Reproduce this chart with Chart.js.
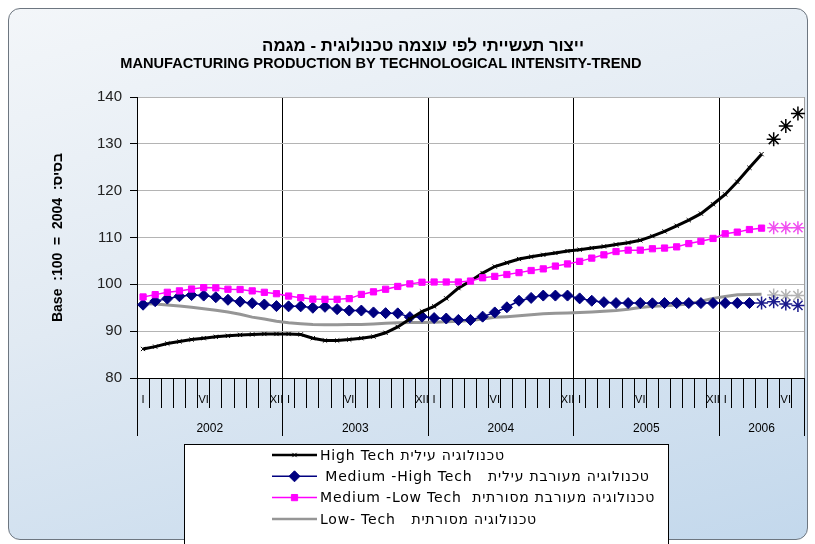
<!DOCTYPE html>
<html>
<head>
<meta charset="utf-8">
<script src="https://cdn.jsdelivr.net/npm/chart.js@4.4.1/dist/chart.umd.min.js"></script>
<style>
  html, body { margin: 0; padding: 0; background: #fff; }
  #frame {
    position: absolute; left: 8px; top: 8px; width: 798px; height: 530px;
    border: 1px solid #6d7680; border-radius: 12px;
    background: linear-gradient(165deg, #f3f6f9 0%, #e1eaf3 45%, #c3d8ec 100%);
  }
  #wrap { position: absolute; left: 0; top: 0; width: 815px; height: 544px; }
</style>
</head>
<body>
<div id="frame"></div>
<div id="wrap"><canvas id="c" width="815" height="544"></canvas></div>
<script>
  const romanMonths = ["I", "II", "III", "IV", "V", "VI", "VII", "VIII", "IX", "X", "XI", "XII"];
  const shownMonths = ["I", "VI", "XII"];
  const years = ["2002", "2003", "2004", "2005", "2006"];
  const monthsPerYear = [12, 12, 12, 12, 7];

  const titleHe = "ייצור תעשייתי לפי עוצמה טכנולוגית - מגמה";
  const titleEn = "MANUFACTURING PRODUCTION BY TECHNOLOGICAL INTENSITY-TREND";
  const yTitle = "Base  :100  =  2004  :בסיס";

  const seriesNames = [
    "High Tech טכנולוגיה עילית",
    " Medium -High Tech   טכנולוגיה מעורבת עילית",
    "Medium -Low Tech  טכנולוגיה מעורבת מסורתית",
    "Low- Tech   טכנולוגיה מסורתית",
  ];

  // Jan 2002 .. Apr 2006, then trend points May..Jul 2006
  const highTech = [
    86.2, 86.7, 87.35, 87.8, 88.2, 88.5, 88.8, 89.0, 89.2, 89.3, 89.4, 89.4,
    89.4, 89.3, 88.5, 88.0, 88.0, 88.2, 88.5, 88.85, 89.65, 90.9, 92.6, 94.2,
    95.3, 97.0, 99.2, 100.7, 102.4, 103.8, 104.6, 105.4, 105.9, 106.3, 106.7, 107.1,
    107.4, 107.75, 108.1, 108.5, 108.9, 109.4, 110.3, 111.3, 112.5, 113.7, 115.1, 117.1,
    119.2, 121.9, 124.9, 127.8,
  ];
  const highTechTrend = [131.0, 133.8, 136.5];

  // Jan 2002 .. Mar 2006, then trend points Apr..Jul 2006
  const mediumHigh = [
    95.65, 96.4, 96.95, 97.45, 97.7, 97.6, 97.25, 96.7, 96.3, 95.97, 95.7, 95.35,
    95.3, 95.3, 95.0, 95.2, 94.7, 94.4, 94.4, 94.0, 93.85, 93.8, 93.0, 93.1,
    92.8, 92.7, 92.4, 92.4, 93.1, 94.0, 95.1, 96.5, 97.1, 97.6, 97.6, 97.6,
    97.0, 96.5, 96.2, 96.0, 96.0, 96.0, 95.95, 96.0, 96.0, 96.0, 96.0, 96.0,
    96.0, 96.0, 96.0,
  ];
  const mediumHighTrend = [96.0, 96.3, 95.8, 95.5];

  const mediumLow = [
    97.3, 97.8, 98.3, 98.6, 99.0, 99.3, 99.25, 98.95, 98.9, 98.6, 98.3, 98.0,
    97.5, 97.15, 96.85, 96.8, 96.8, 96.95, 97.85, 98.4, 98.95, 99.55, 100.1, 100.45,
    100.5, 100.5, 100.5, 100.7, 101.4, 101.7, 102.1, 102.5, 102.95, 103.3, 103.9, 104.35,
    104.9, 105.6, 106.3, 107.0, 107.3, 107.3, 107.6, 107.75, 108.0, 108.7, 109.2, 109.8,
    110.8, 111.15, 111.7, 112.0,
  ];
  const mediumLowTrend = [112.1, 112.1, 112.1];

  const lowTech = [
    95.9, 95.8, 95.6, 95.35, 95.1, 94.8, 94.45, 94.1, 93.6, 93.0, 92.6, 92.1,
    91.8, 91.6, 91.4, 91.35, 91.35, 91.4, 91.45, 91.55, 91.7, 91.8, 91.85, 91.85,
    91.9, 92.0, 92.1, 92.25, 92.6, 92.95, 93.1, 93.3, 93.5, 93.7, 93.8, 93.9,
    94.0, 94.1, 94.25, 94.4, 94.7, 95.05, 95.3, 95.4, 95.6, 95.8, 96.4, 97.0,
    97.4, 97.75, 97.85, 97.9,
  ];
  const lowTechTrend = [97.7, 97.6, 97.6];

  const yTicks = [80, 90, 100, 110, 120, 130, 140];

  // month categories and year band ticks
  const categories = [];
  const yearTicks = [];
  let start = 0;
  years.forEach((y, k) => {
    for (let m = 0; m < monthsPerYear[k]; m++) categories.push(romanMonths[m]);
    yearTicks.push({ value: start - 0.5, label: "" });
    yearTicks.push({ value: start + monthsPerYear[k] / 2 - 0.5, label: y });
    start += monthsPerYear[k];
  });
  yearTicks.push({ value: start - 0.5, label: "" });
  const yearBounds = yearTicks.filter((t) => t.label === "").map((t) => t.value);

  function tail(values) {
    return new Array(categories.length - values.length).fill(null).concat(values);
  }

  const FONT = '"Liberation Sans", Arial, sans-serif';
  Chart.defaults.font.family = FONT;
  Chart.defaults.color = "#000";

  const plotBackground = {
    id: "plotBackground",
    beforeDraw(chart) {
      const { ctx, chartArea: a } = chart;
      ctx.save();
      ctx.fillStyle = "#fff";
      ctx.fillRect(a.left, a.top, a.right - a.left, a.bottom - a.top);
      ctx.restore();
    },
  };

  // two title lines, each centred where the original sits
  const titleText = {
    id: "titleText",
    afterDraw(chart) {
      const { ctx } = chart;
      ctx.save();
      ctx.fillStyle = "#000";
      ctx.textAlign = "center";
      ctx.textBaseline = "middle";
      ctx.font = "bold 16.8px " + FONT;
      ctx.fillText(titleHe, 423, 46);
      ctx.font = "bold 14.6px " + FONT;
      ctx.fillText(titleEn, 381, 64);
      ctx.restore();
    },
  };

  const boxLegend = {
    id: "boxLegend",
    afterDraw(chart) {
      const { ctx, chartArea } = chart;
      const left = Math.round(chartArea.left + 47);
      const top = Math.round(chart.scales.years.bottom + 4);
      ctx.save();
      ctx.fillStyle = "#fff";
      ctx.strokeStyle = "#000";
      ctx.lineWidth = 1;
      ctx.fillRect(left, top, 484, 120);
      ctx.strokeRect(left + 0.5, top + 0.5, 484, 120);
      ctx.font = '14px "DejaVu Sans", sans-serif';
      if ("letterSpacing" in ctx) ctx.letterSpacing = "0.8px";
      ctx.textBaseline = "middle";
      ctx.textAlign = "left";
      chart.data.datasets.forEach((ds) => {
        if (ds.legendRow === undefined) return;
        const y = top + 11 + ds.legendRow * 21.3;
        const x0 = left + 88, x1 = left + 133;
        ctx.strokeStyle = ds.borderColor;
        ctx.lineWidth = Math.min(ds.borderWidth, 2.5);
        ctx.beginPath();
        ctx.moveTo(x0, y);
        ctx.lineTo(x1, y);
        ctx.stroke();
        if (ds.pointRadius > 0) {
          ctx.fillStyle = ds.pointBackgroundColor;
          ctx.strokeStyle = ds.pointBorderColor;
          ctx.lineWidth = ds.pointBorderWidth;
          Chart.helpers.drawPoint(ctx, {
            pointStyle: ds.pointStyle,
            radius: ds.pointRadius,
            borderWidth: ds.pointBorderWidth,
            rotation: 0,
          }, (x0 + x1) / 2, y);
        }
        ctx.fillStyle = "#000";
        ctx.fillText(ds.label, x1 + 3, y + 1);
      });
      ctx.restore();
    },
  };

  new Chart(document.getElementById("c"), {
    type: "line",
    data: {
      labels: categories,
      datasets: [
        {
          label: seriesNames[2], legendRow: 2, data: mediumLow, order: 0,
          borderColor: "#ff00ff", borderWidth: 1.5,
          pointStyle: "rect", pointRadius: 4.4,
          pointBackgroundColor: "#ff00ff", pointBorderColor: "#ff00ff", pointBorderWidth: 1,
        },
        {
          label: seriesNames[0], legendRow: 0, data: highTech, order: 1,
          borderColor: "#000", borderWidth: 3,
          pointStyle: "crossRot", pointRadius: 3,
          pointBackgroundColor: "#000", pointBorderColor: "#000", pointBorderWidth: 1,
        },
        {
          label: seriesNames[1], legendRow: 1, data: mediumHigh, order: 2,
          borderColor: "#000080", borderWidth: 1.5,
          pointStyle: "rectRot", pointRadius: 5.5,
          pointBackgroundColor: "#000080", pointBorderColor: "#000080", pointBorderWidth: 1,
        },
        {
          label: seriesNames[3], legendRow: 3, data: lowTech, order: 3,
          borderColor: "#969696", borderWidth: 3,
          pointRadius: 0, pointBackgroundColor: "#969696", pointBorderColor: "#969696", pointBorderWidth: 0,
        },
        {
          label: "trend-hi", data: tail(highTechTrend), showLine: false, order: 1,
          pointStyle: "star", pointRadius: 7, pointBorderWidth: 1.5,
          borderColor: "#000", pointBorderColor: "#000",
        },
        {
          label: "trend-mh", data: tail(mediumHighTrend), showLine: false, order: 2,
          pointStyle: "star", pointRadius: 6.5, pointBorderWidth: 1.5,
          borderColor: "#1a1a8c", pointBorderColor: "#1a1a8c",
        },
        {
          label: "trend-ml", data: tail(mediumLowTrend), showLine: false, order: 0,
          pointStyle: "star", pointRadius: 6.5, pointBorderWidth: 1.5,
          borderColor: "#f050f0", pointBorderColor: "#f050f0",
        },
        {
          label: "trend-lo", data: tail(lowTechTrend), showLine: false, order: 3,
          pointStyle: "star", pointRadius: 6.5, pointBorderWidth: 1.5,
          borderColor: "#b4b4b4", pointBorderColor: "#b4b4b4",
        },
      ],
    },
    options: {
      responsive: false,
      animation: false,
      devicePixelRatio: 1,
      layout: { padding: { left: 0, right: 11, top: 97, bottom: 104 } },
      elements: { line: { tension: 0 } },
      plugins: {
        legend: { display: false },
        tooltip: { enabled: false },
        title: { display: false },
      },
      scales: {
        x: {
          type: "category",
          position: "bottom",
          weight: 0,
          offset: true,
          border: { display: true, color: "#000", width: 1 },
          grid: {
            offset: true,
            drawTicks: true,
            tickLength: 30,
            tickColor: "#000",
            tickWidth: 1,
            lineWidth: 1,
            color: (c) => {
              if (c.index === undefined) return "#a0a0a0";
              if (c.index > 0 && c.index % 12 === 0) return "#000";
              return "rgba(0,0,0,0)";
            },
          },
          ticks: {
            autoSkip: false,
            maxRotation: 0,
            minRotation: 0,
            padding: -15,
            font: { size: 11 },
            color: "#000",
            callback: (v, i) => (shownMonths.includes(categories[i]) ? categories[i] : ""),
          },
          afterFit: (s) => { s.height = 30; },
        },
        years: {
          type: "linear",
          position: "bottom",
          weight: 1,
          min: -0.5,
          max: categories.length - 0.5,
          border: { display: false },
          grid: {
            drawOnChartArea: false,
            drawTicks: true,
            tickLength: 28,
            tickWidth: 1,
            tickColor: (c) => (c.tick && yearBounds.includes(c.tick.value) ? "#000" : "rgba(0,0,0,0)"),
          },
          afterBuildTicks: (s) => { s.ticks = yearTicks.map((t) => ({ value: t.value })); },
          ticks: {
            autoSkip: false,
            maxRotation: 0,
            padding: -15,
            font: { size: 12 },
            color: "#000",
            callback: (v, i) => (yearTicks[i] ? yearTicks[i].label : ""),
          },
          afterFit: (s) => { s.height = 32; },
        },
        y: {
          min: 80,
          max: 140,
          border: { display: true, color: "#000", width: 1 },
          grid: { color: "#b4b4b4", tickColor: "#000", tickLength: 7, lineWidth: 1 },
          afterBuildTicks: (s) => { s.ticks = yTicks.map((v) => ({ value: v })); },
          ticks: { padding: 8, font: { size: 15 }, color: "#222" },
          title: {
            display: true,
            text: yTitle,
            font: { size: 14, weight: "bold" },
            color: "#000",
            padding: { top: 50, bottom: 0 },
          },
          afterFit: (s) => { s.width = 137; },
        },
      },
    },
    plugins: [plotBackground, titleText, boxLegend],
  });
</script>
</body>
</html>
